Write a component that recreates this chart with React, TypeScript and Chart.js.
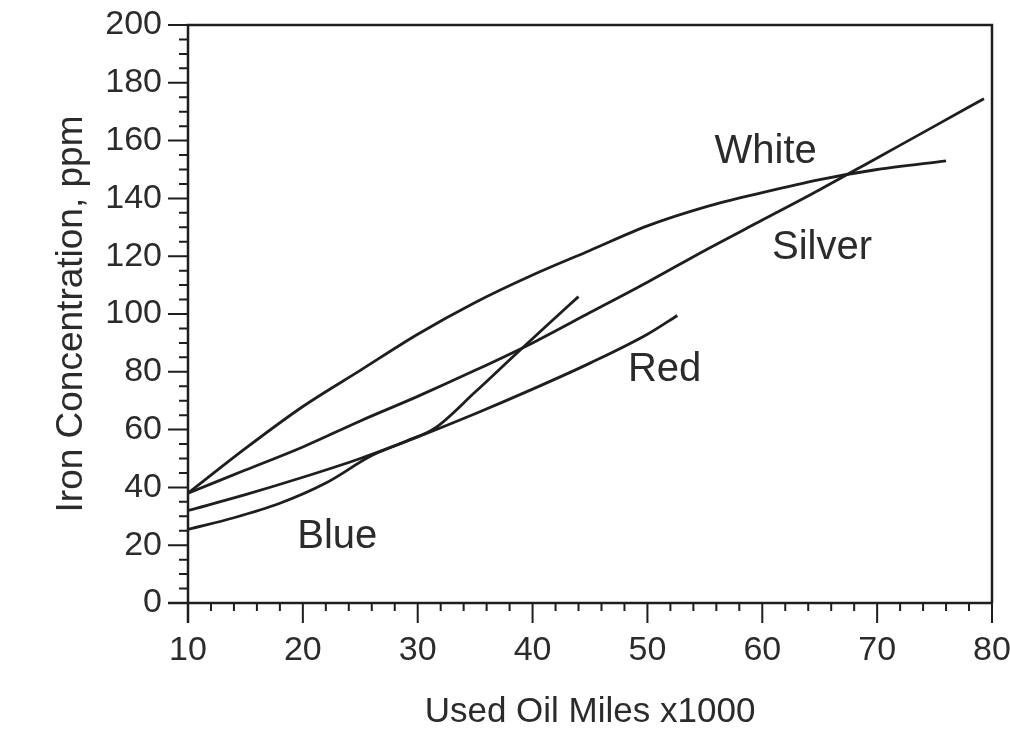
import React, { useEffect, useRef } from "react";
import { Chart, registerables } from "chart.js";

Chart.register(...registerables);

// Data (Used Oil Miles x1000 vs Iron Concentration, ppm)
const whiteX = [10, 15, 20, 25, 30, 35, 40, 45, 50, 55, 60, 65, 70, 76];
const whiteY = [38, 53.5, 68, 80.5, 93, 104, 113.5, 122, 130.5, 137, 142, 146.5, 150, 153];

const silverX = [10, 15, 20, 25, 30, 35, 40, 45, 50, 55, 60, 65, 70, 75, 79.3];
const silverY = [38, 46, 54, 63, 71.5, 80.5, 90, 100.5, 111, 122, 132.5, 143, 154, 165, 174.5];

const redX = [10, 15, 20, 25, 30, 35, 40, 45, 50, 52.6];
const redY = [32, 37.5, 43.5, 50, 57.5, 65.5, 74, 83, 93, 99.5];

const blueX = [10, 14, 18, 22, 26, 29, 31.5, 35, 38.5, 41.5, 44];
const blueY = [25.5, 29.5, 34.5, 41.5, 51, 56, 60.5, 73, 86, 97, 106];

const curveNames = ["White", "Silver", "Red", "Blue"];
const curveLabelX = [60.3, 65.2, 51.5, 23];
const curveLabelY = [156, 122.8, 80.6, 22.8];

const xTitle = "Used Oil Miles x1000";
const yTitle = "Iron Concentration, ppm";

const INK = "#1e1e1e";
const TEXT = "#2b2b2b";
const FONT = "'Liberation Sans', Arial, Helvetica, sans-serif";

const axesPlugin = {
  id: "axesPlugin",
  afterDraw(chart: any) {
    const { ctx } = chart;
    const xs = chart.scales.x;
    const ys = chart.scales.y;
    const left = xs.getPixelForValue(10);
    const right = xs.getPixelForValue(80);
    const top = ys.getPixelForValue(200);
    const bottom = ys.getPixelForValue(0);
    ctx.save();
    ctx.strokeStyle = INK;
    ctx.lineCap = "butt";
    ctx.lineWidth = 2.5;
    ctx.beginPath();
    ctx.moveTo(left, bottom + 20);
    ctx.lineTo(left, top);
    ctx.lineTo(right, top);
    ctx.lineTo(right, bottom);
    ctx.moveTo(left - 20, bottom);
    ctx.lineTo(right, bottom);
    ctx.stroke();
    ctx.lineWidth = 2;
    ctx.beginPath();
    for (let v = 0; v <= 200; v += 5) {
      const y = ys.getPixelForValue(v);
      const len = v % 20 === 0 ? 20 : 9;
      ctx.moveTo(left, y);
      ctx.lineTo(left - len, y);
    }
    for (let v = 10; v <= 80; v += 2) {
      const x = xs.getPixelForValue(v);
      const len = (v - 10) % 10 === 0 ? 20 : 8;
      ctx.moveTo(x, bottom);
      ctx.lineTo(x, bottom + len);
    }
    ctx.stroke();
    ctx.fillStyle = TEXT;
    ctx.font = `40px ${FONT}`;
    ctx.textAlign = "center";
    ctx.textBaseline = "middle";
    curveNames.forEach((n, i) => {
      ctx.fillText(n, xs.getPixelForValue(curveLabelX[i]), ys.getPixelForValue(curveLabelY[i]));
    });
    ctx.restore();
  },
};

export default function App() {
  const ref = useRef<HTMLCanvasElement>(null);
  useEffect(() => {
    const mk = (xs: number[], ys: number[]) => xs.map((x, i) => ({ x, y: ys[i] }));
    const line = (label: string, xs: number[], ys: number[]) => ({
      label,
      data: mk(xs, ys),
      borderColor: INK,
      borderWidth: 2.8,
      pointRadius: 0,
      fill: false,
      cubicInterpolationMode: "monotone" as const,
    });
    const tickFont = { family: FONT, size: 34 };
    const chart = new Chart(ref.current as HTMLCanvasElement, {
      type: "line",
      data: {
        datasets: [
          line("White", whiteX, whiteY),
          line("Silver", silverX, silverY),
          line("Red", redX, redY),
          line("Blue", blueX, blueY),
        ],
      },
      options: {
        responsive: false,
        animation: false,
        layout: { padding: { top: 25, right: 18, left: 0, bottom: 0 } },
        plugins: { legend: { display: false }, tooltip: { enabled: false } },
        scales: {
          x: {
            type: "linear",
            min: 10,
            max: 80,
            afterFit: (s: any) => {
              s.height = 130;
              s.paddingLeft = 0;
              s.paddingRight = 0;
            },
            grid: { display: false, drawTicks: false },
            border: { display: false },
            ticks: { stepSize: 10, padding: 27, font: tickFont, color: TEXT, maxRotation: 0 },
            title: {
              display: true,
              text: xTitle,
              font: { family: FONT, size: 35 },
              color: TEXT,
              padding: { top: 0, bottom: 0 },
            },
          },
          y: {
            type: "linear",
            min: 0,
            max: 200,
            afterFit: (s: any) => {
              s.width = 188;
              s.paddingTop = 0;
              s.paddingBottom = 0;
            },
            grid: { display: false, drawTicks: false },
            border: { display: false },
            ticks: { stepSize: 20, padding: 26, font: tickFont, color: TEXT },
            title: {
              display: true,
              text: yTitle,
              font: { family: FONT, size: 37 },
              color: TEXT,
              padding: { top: 50, bottom: 0 },
            },
          },
        },
      },
      plugins: [axesPlugin],
    });
    return () => chart.destroy();
  }, []);
  return (
    <div style={{ position: "fixed", left: 0, top: 0, width: 1010, height: 733, background: "#fff" }}>
      <canvas ref={ref} width={1010} height={733} style={{ display: "block" }} />
    </div>
  );
}
